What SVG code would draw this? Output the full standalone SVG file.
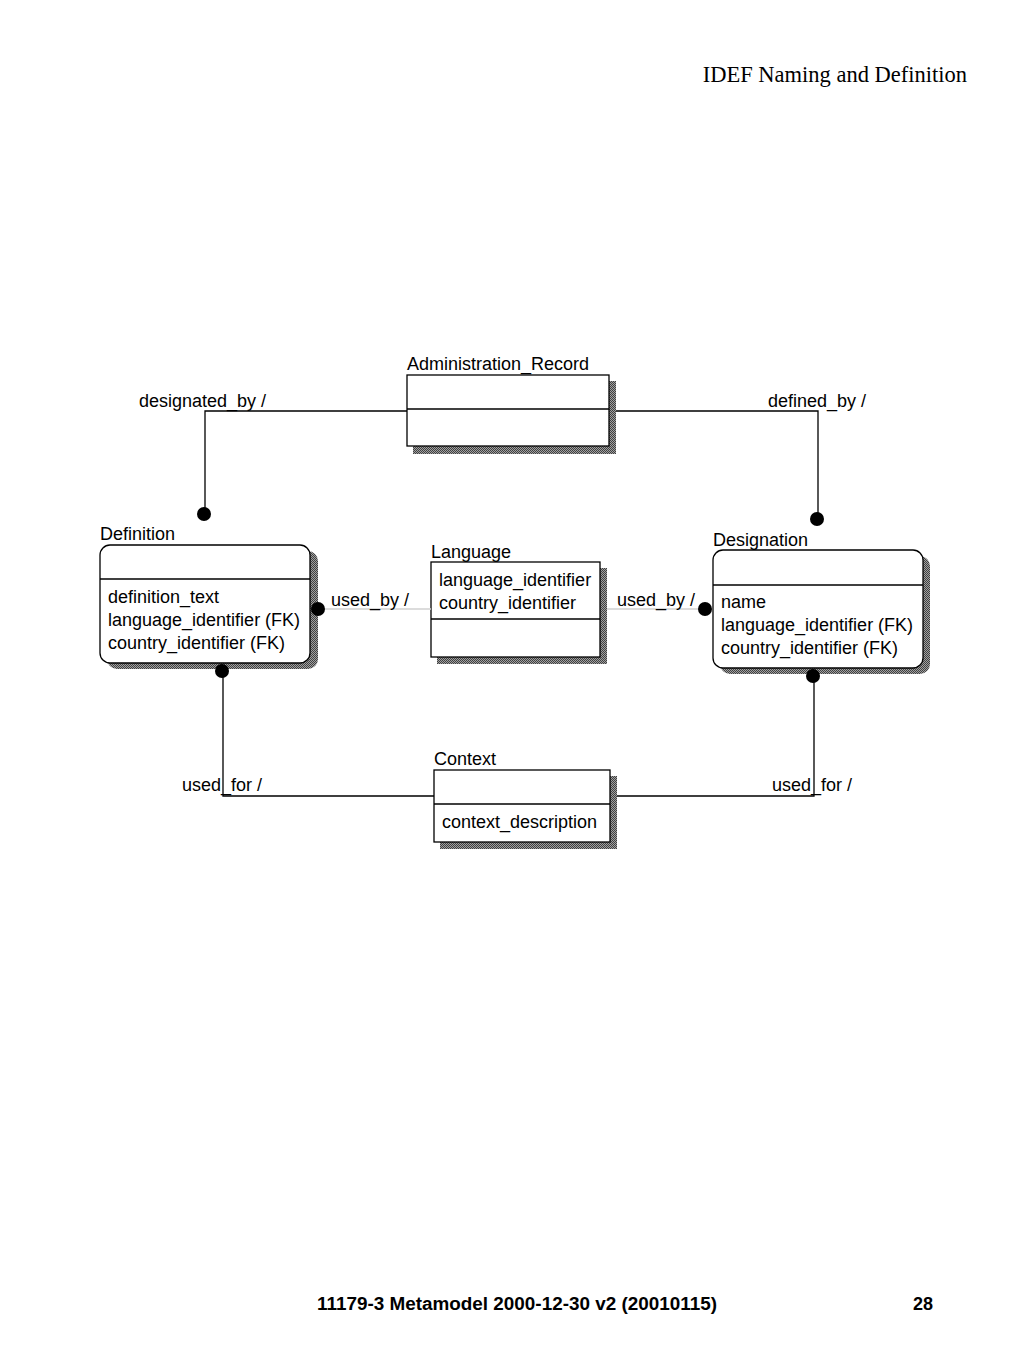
<svg xmlns="http://www.w3.org/2000/svg" width="1024" height="1365" viewBox="0 0 1024 1365">
<defs>
<pattern id="shade" width="2" height="2" patternUnits="userSpaceOnUse">
<rect width="2" height="2" fill="#a0a0a0"/>
<rect width="1" height="1" fill="#404040"/>
<rect x="1" y="1" width="1" height="1" fill="#404040"/>
</pattern>
</defs>
<style>
text{font-family:"Liberation Sans",Arial,sans-serif;font-size:18px;fill:#000}
.hdr{font-family:"Liberation Serif","Times New Roman",serif;font-size:22.5px}
.ftr{font-weight:bold;font-size:18px}
.box{fill:#fff;stroke:#000;stroke-width:1.3}
.shadow{fill:url(#shade)}
.div{stroke:#000;stroke-width:1.3}
.rel{fill:none;stroke:#000;stroke-width:1.3}
.relg{fill:none;stroke:#d0d0d0;stroke-width:1.5}
.dot{fill:#000}
</style>
<rect width="1024" height="1365" fill="#fff"/>
<text class="hdr" x="967" y="82" text-anchor="end">IDEF Naming and Definition</text>

<g id="administration_record">
<rect class="shadow" x="413" y="381" width="203" height="73"/>
<rect class="box" x="407" y="375" width="202" height="71"/>
<line class="div" x1="407" y1="409" x2="609" y2="409"/>
<text x="407" y="370">Administration_Record</text>
</g>

<g id="definition">
<rect class="shadow" x="107" y="551" width="211" height="118" rx="10"/>
<rect class="box" x="100" y="545" width="210" height="118" rx="10"/>
<line class="div" x1="100" y1="579" x2="310" y2="579"/>
<text x="100" y="540">Definition</text>
<text x="108" y="603">definition_text</text>
<text x="108" y="626">language_identifier (FK)</text>
<text x="108" y="649">country_identifier (FK)</text>
</g>

<g id="language">
<rect class="shadow" x="437" y="568" width="170" height="96"/>
<rect class="box" x="431" y="562" width="169" height="95"/>
<line class="div" x1="431" y1="619" x2="600" y2="619"/>
<text x="431" y="558">Language</text>
<text x="439" y="586">language_identifier</text>
<text x="439" y="609">country_identifier</text>
</g>

<g id="designation">
<rect class="shadow" x="720" y="556" width="210" height="118" rx="10"/>
<rect class="box" x="713" y="550" width="210" height="118" rx="10"/>
<line class="div" x1="713" y1="585" x2="923" y2="585"/>
<text x="713" y="546">Designation</text>
<text x="721" y="608">name</text>
<text x="721" y="631">language_identifier (FK)</text>
<text x="721" y="654">country_identifier (FK)</text>
</g>

<g id="context">
<rect class="shadow" x="440" y="776" width="177" height="73"/>
<rect class="box" x="434" y="770" width="176" height="72"/>
<line class="div" x1="434" y1="804" x2="610" y2="804"/>
<text x="434" y="765">Context</text>
<text x="442" y="828">context_description</text>
</g>

<g id="connectors">
<polyline class="rel" points="407,411 205,411 205,508"/>
<circle class="dot" cx="204" cy="514" r="7"/>
<text x="139" y="407">designated_by /</text>
<polyline class="rel" points="616,411 818,411 818,513"/>
<circle class="dot" cx="817" cy="519" r="7"/>
<text x="768" y="407">defined_by /</text>
<line class="relg" x1="325" y1="609" x2="431" y2="609"/>
<circle class="dot" cx="318" cy="609" r="7"/>
<text x="331" y="606">used_by /</text>
<line class="relg" x1="607" y1="609" x2="698" y2="609"/>
<circle class="dot" cx="705" cy="609" r="7"/>
<text x="617" y="606">used_by /</text>
<polyline class="rel" points="223,677 223,796 434,796"/>
<circle class="dot" cx="222" cy="671" r="7"/>
<text x="182" y="791">used_for /</text>
<polyline class="rel" points="814,682 814,796 617,796"/>
<circle class="dot" cx="813" cy="676" r="7"/>
<text x="772" y="791">used_for /</text>
</g>

<text class="ftr" x="317" y="1310" textLength="400" lengthAdjust="spacingAndGlyphs">11179-3 Metamodel 2000-12-30 v2 (20010115)</text>
<text class="ftr" x="933" y="1310" text-anchor="end">28</text>
</svg>
